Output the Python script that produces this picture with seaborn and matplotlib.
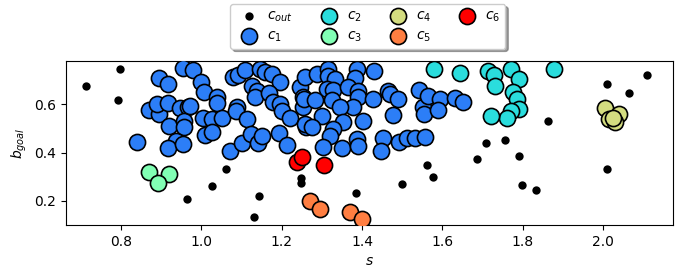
import numpy as np
import pandas as pd
import matplotlib
matplotlib.use("Agg")
import matplotlib.pyplot as plt
import seaborn as sns

# ---- data ----
out_s = [0.713, 0.798, 0.793, 0.964, 1.027, 1.062, 1.144, 1.131, 1.248, 1.248,
         1.385, 1.499, 1.561, 1.578, 1.687, 1.710, 1.756, 1.790, 1.798, 1.834,
         1.863, 2.011, 2.111, 2.065, 2.011]
out_b = [0.675, 0.747, 0.617, 0.206, 0.260, 0.332, 0.218, 0.135, 0.295, 0.275,
         0.231, 0.269, 0.350, 0.298, 0.374, 0.440, 0.453, 0.387, 0.265, 0.244,
         0.532, 0.685, 0.720, 0.646, 0.333]

c1_s = [0.895, 0.916, 0.955, 0.841, 0.870, 0.895, 0.889, 0.916, 0.920, 0.947,
        0.968, 0.957, 0.957, 0.937, 0.917, 0.955, 0.980, 0.998, 1.007, 1.038,
        1.040, 0.972, 1.005, 1.026, 1.051, 1.009, 1.026, 1.071, 1.088, 1.086,
        1.113, 1.101, 1.123, 1.142, 1.150, 1.080, 1.092, 1.109, 1.146, 1.159,
        1.175, 1.196, 1.125, 1.138, 1.134, 1.169, 1.179, 1.196, 1.200, 1.221,
        1.194, 1.213, 1.246, 1.258, 1.254, 1.252, 1.261, 1.258, 1.287, 1.316,
        1.316, 1.333, 1.387, 1.383, 1.430, 1.312, 1.329, 1.366, 1.391, 1.391,
        1.378, 1.427, 1.466, 1.470, 1.490, 1.478, 1.256, 1.283, 1.325, 1.345,
        1.300, 1.275, 1.353, 1.402, 1.329, 1.320, 1.304, 1.350, 1.387, 1.391,
        1.452, 1.447, 1.493, 1.513, 1.532, 1.557, 1.542, 1.553, 1.554, 1.565,
        1.594, 1.632, 1.652, 1.590]
c1_b = [0.710, 0.685, 0.751, 0.445, 0.576, 0.562, 0.601, 0.607, 0.511, 0.584,
        0.590, 0.532, 0.504, 0.450, 0.417, 0.436, 0.741, 0.692, 0.650, 0.632,
        0.604, 0.595, 0.545, 0.538, 0.545, 0.473, 0.487, 0.406, 0.590, 0.574,
        0.538, 0.441, 0.478, 0.441, 0.469, 0.713, 0.720, 0.741, 0.748, 0.734,
        0.727, 0.692, 0.678, 0.657, 0.629, 0.646, 0.608, 0.601, 0.574, 0.543,
        0.483, 0.431, 0.671, 0.713, 0.629, 0.590, 0.504, 0.517, 0.725, 0.748,
        0.716, 0.706, 0.748, 0.710, 0.738, 0.664, 0.660, 0.671, 0.657, 0.629,
        0.587, 0.622, 0.657, 0.643, 0.622, 0.557, 0.622, 0.616, 0.616, 0.590,
        0.553, 0.504, 0.525, 0.532, 0.496, 0.469, 0.423, 0.417, 0.455, 0.427,
        0.462, 0.408, 0.445, 0.462, 0.459, 0.465, 0.660, 0.587, 0.559, 0.636,
        0.622, 0.626, 0.608, 0.576]

c2_s = [1.580, 1.644, 1.715, 1.729, 1.732, 1.771, 1.790, 1.776, 1.787, 1.792,
        1.771, 1.762, 1.721, 1.879]
c2_b = [0.745, 0.730, 0.738, 0.723, 0.674, 0.748, 0.704, 0.653, 0.622, 0.579,
        0.571, 0.545, 0.551, 0.745]

c3_s = [0.870, 0.919, 0.891]
c3_b = [0.318, 0.312, 0.275]

c4_s = [2.006, 2.040, 2.016, 2.030, 2.025]
c4_b = [0.583, 0.561, 0.540, 0.526, 0.545]

c5_s = [1.271, 1.296, 1.370, 1.400]
c5_b = [0.200, 0.168, 0.155, 0.125]

c6_s = [1.239, 1.251, 1.305]
c6_b = [0.362, 0.383, 0.348]

labels = [r"$c_{out}$", r"$c_1$", r"$c_2$", r"$c_3$", r"$c_4$", r"$c_5$", r"$c_6$"]

# ---- plot ----
fig = plt.figure(figsize=(6.8, 2.72), dpi=100)
ax = fig.add_axes([0.097, 0.173, 0.893, 0.603])

cmap = plt.get_cmap("rainbow")
cluster_colors = [cmap(v) for v in np.linspace(0, 1, 7)[1:]]

sns.scatterplot(x=out_s, y=out_b, ax=ax, color="black", s=36, linewidth=0,
                label=labels[0], zorder=2)
groups = [(c1_s, c1_b), (c2_s, c2_b), (c3_s, c3_b), (c4_s, c4_b),
          (c5_s, c5_b), (c6_s, c6_b)]
for (xs, ys), col, lab in zip(groups, cluster_colors, labels[1:]):
    sns.scatterplot(x=xs, y=ys, ax=ax, color=col, s=135, edgecolor="black",
                    linewidth=1.2, label=lab, zorder=3)

ax.set_xlim(0.663, 2.175)
ax.set_ylim(0.10, 0.78)
ax.set_xticks([0.8, 1.0, 1.2, 1.4, 1.6, 1.8, 2.0])
ax.set_yticks([0.2, 0.4, 0.6])
ax.set_xlabel(r"$s$")
ax.set_ylabel(r"$b_{goal}$")

handles, labs = ax.get_legend_handles_labels()
ax.legend(handles, labs, loc="lower center", bbox_to_anchor=(0.497, 1.075),
          ncol=4, shadow=True, fancybox=True, borderaxespad=0,
          handletextpad=0.3, columnspacing=1.6, labelspacing=0.3,
          borderpad=0.35)

fig.savefig("out.png", dpi=100)
